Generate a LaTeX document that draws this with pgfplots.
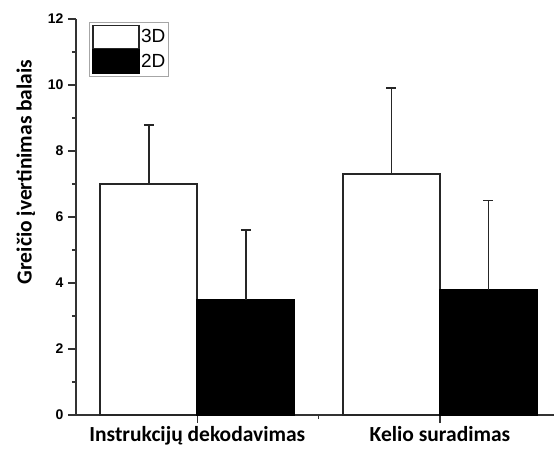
\documentclass[border=0pt]{standalone}
\usepackage{fontspec}
\setmainfont{Liberation Sans}
\newfontfamily\carlito{Carlito}
\usepackage{pgfplots}
\pgfplotsset{compat=1.18}
\begin{document}
\begin{tikzpicture}[x=1pt,y=1pt]
\useasboundingbox (0,0) rectangle (554,451);
\begin{axis}[
  at={(76pt,36pt)}, anchor=origin,
  scale only axis, width=478pt, height=396pt,
  ybar=0pt, bar width=97pt,
  xmin=0.5, xmax=2.47, ymin=0, ymax=12,
  xtick={1,2}, xticklabels={Instrukcijų dekodavimas, Kelio suradimas},
  minor xtick={1.5},
  ytick={0,2,4,6,8,10,12}, minor ytick={1,3,5,7,9,11},
  axis x line*=bottom, axis y line*=left,
  axis line style={line width=1.6pt, color=black!80},
  tick style={line width=1.3pt, color=black!80},
  tick align=outside,
  major tick length=8pt, minor tick length=4pt,
  /pgf/number format/assume math mode=true,
  yticklabel style={font=\fontsize{14}{16}\selectfont\bfseries, xshift=-1pt},
  xticklabel style={font=\fontsize{21.5}{24}\selectfont\carlito\bfseries, yshift=0pt},
  ylabel={Greičio įvertinimas balais},
  ylabel style={font=\fontsize{21.5}{24}\selectfont\carlito\bfseries, at={(axis description cs:-0.105,0.614)}, anchor=center},
  legend style={at={(0.028,0.992)}, anchor=north west, draw=black!35, line width=0.7pt,
    inner sep=2pt, row sep=0pt, font=\fontsize{19}{21}\selectfont,
    nodes={inner sep=1.5pt}},
  legend cell align=left,
  legend image code/.code={\draw[#1, line width=1.8pt] (0pt,-11.5pt) rectangle (46pt,11.5pt);},
  error bars/y dir=plus, error bars/y explicit,
  error bars/error bar style={line width=1.9pt, color=black!85},
  error bars/error mark options={rotate=90, mark size=5pt, line width=1.9pt, color=black!85},
]
\addplot[draw=black!85, fill=white, line width=1.8pt] coordinates {(1,7.0) +- (0,1.8) (2,7.3) +- (0,2.6)};
\addplot[draw=black, fill=black, line width=1.8pt] coordinates {(1,3.5) +- (0,2.1) (2,3.8) +- (0,2.7)};
\legend{3D\hspace{5pt},2D\hspace{5pt}}
\end{axis}
\end{tikzpicture}
\end{document}
